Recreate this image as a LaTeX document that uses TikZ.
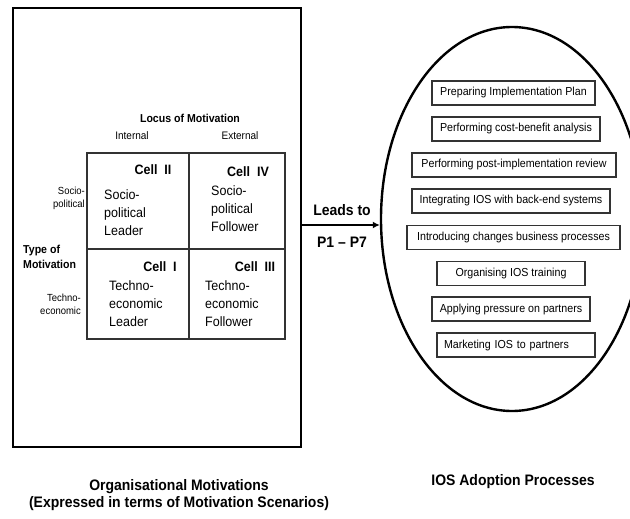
\documentclass[tikz,border=0pt]{standalone}
\usepackage{fontspec}
\setmainfont{Liberation Sans}[FakeStretch=0.92]
\usetikzlibrary{shapes.geometric,arrows.meta}
\begin{document}
\begin{tikzpicture}[x=1pt,y=-1pt,
  cellline/.style={draw=black!80,line width=1.1pt},
  celltitle/.style={font=\fontsize{13.6}{15}\selectfont\bfseries,inner sep=0pt},
  celltext/.style={font=\fontsize{13.6}{18}\selectfont,align=left,inner sep=0pt,anchor=north west},
  sidelabel/.style={font=\fontsize{10.3}{13}\selectfont,align=right,inner sep=0pt,anchor=north east},
  headlabel/.style={font=\fontsize{10.9}{12}\selectfont,inner sep=0pt},
  boldlabel/.style={font=\fontsize{11.5}{15.7}\selectfont\bfseries,inner sep=0pt},
  procbox/.style={draw=black!80,line width=1.1pt,font=\fontsize{11.6}{13}\selectfont,minimum height=24pt,inner sep=0pt},
  biglabel/.style={font=\fontsize{15.2}{17}\selectfont\bfseries,align=center,inner sep=0pt}]
\path[use as bounding box] (0,0) rectangle (630,519);

% outer box
\node[draw,line width=2.8pt,minimum width=288pt,minimum height=439pt,inner sep=0pt] (outer) at (157,227.5) {};

% grid
\coordinate (g1) at (87,153);
\coordinate (g2) at (285,339);
\draw[cellline] (g1) rectangle (g2);
\draw[cellline] (189,153) -- (189,339);
\draw[cellline] (87,249) -- (285,249);

\node[boldlabel] (locus) at (190,118) {Locus of Motivation};
\node[headlabel] (internal) at (132,136) {Internal};
\node[headlabel] (external) at (240,136) {External};

\node[sidelabel] (socio) at (85,187) {Socio-\\political};
\node[boldlabel,align=left,anchor=north west] (type) at (23,244.5) {Type of\\Motivation};
\node[sidelabel] (techno) at (81,294) {Techno-\\economic};

\node[celltitle] (c2) at (153,170) {Cell\ \ II};
\node[celltext] (t2) at (104,189) {Socio-\\political\\Leader};
\node[celltitle] (c4) at (248,172) {Cell\ \ IV};
\node[celltext] (t4) at (211,185) {Socio-\\political\\Follower};
\node[celltitle] (c1) at (160,267) {Cell\ \ I};
\node[celltext] (t1) at (109,280) {Techno-\\economic\\Leader};
\node[celltitle] (c3) at (255,267) {Cell\ \ III};
\node[celltext] (t3) at (205,280) {Techno-\\economic\\Follower};

% ellipse
\begin{scope}
\clip (0,0) rectangle (630,519);
\node[ellipse,draw,line width=2.4pt,minimum width=262pt,minimum height=384pt,inner sep=0pt] (ell) at (512,219) {};
\end{scope}

% arrow
\coordinate (a) at ([yshift=2.5pt]outer.east);
\draw[line width=2pt,-{Latex[length=7pt,width=7pt]}] (a) -- (a -| ell.west);
\node[biglabel] (leads) at (342,210) {Leads to};
\node[biglabel] (p17) at (342,242) {P1 – P7};

% process boxes
\node[procbox,minimum width=163pt] (b1) at (513.5,93) {Preparing Implementation Plan};
\node[procbox,minimum width=168pt] (b2) at (516,129) {Performing cost-benefit analysis};
\node[procbox,minimum width=204pt] (b3) at (514,165) {Performing post-implementation review};
\node[procbox,minimum width=198pt] (b4) at (511,201) {Integrating IOS with back-end systems};
\node[procbox,minimum width=213pt] (b5) at (513.5,237.5) {Introducing changes business processes};
\node[procbox,minimum width=148pt] (b6) at (511,273.5) {Organising IOS training};
\node[procbox,minimum width=158pt] (b7) at (511,309) {Applying pressure on partners};
\node[procbox,text width=144pt,inner xsep=7pt,align=left] (b8) at (516,345) {Marketing IOS to partners};

% bottom captions
\node[biglabel] (cap1) at (179,487) {Organisational Motivations};
\node[biglabel] (cap2) at (179,504) {(Expressed in terms of Motivation Scenarios)};
\node[biglabel] (cap3) at (513,482) {IOS Adoption Processes};
\end{tikzpicture}
\end{document}
